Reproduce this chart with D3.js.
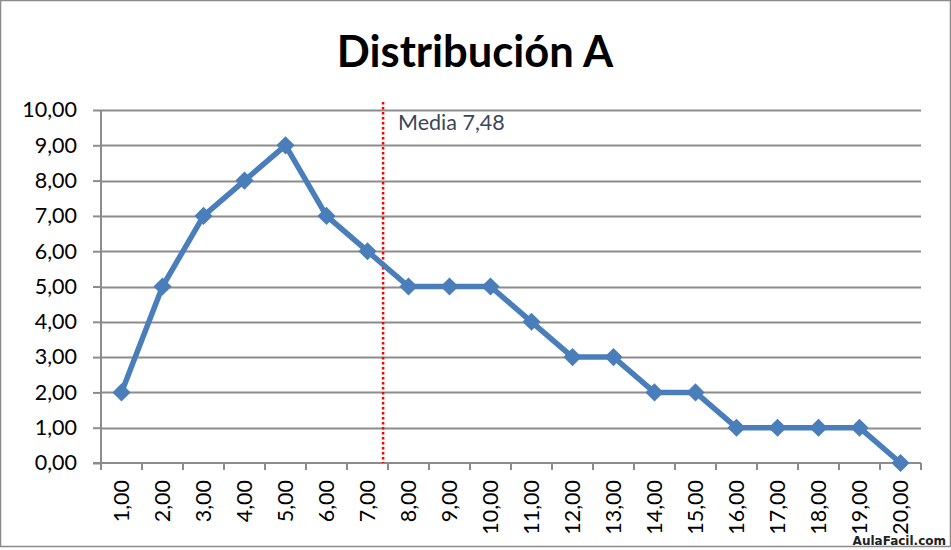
<!DOCTYPE html>
<html><head><meta charset="utf-8">
<script src="https://cdn.jsdelivr.net/npm/d3@7"></script>
<style>body{margin:0;background:#fff}svg{display:block}</style>
</head><body>
<script>
const categories = ["1,00","2,00","3,00","4,00","5,00","6,00","7,00","8,00","9,00","10,00","11,00","12,00","13,00","14,00","15,00","16,00","17,00","18,00","19,00","20,00"];
const values = [2,5,7,8,9,7,6,5,5,5,4,3,3,2,2,1,1,1,1,0];
const yTicks = [0,1,2,3,4,5,6,7,8,9,10];
const mediaValue = 7.48;
const mediaLabel = "Media 7,48";
const title = "Distribución A";

const W = 951, H = 550;
const m = {left:101, right:30, top:110, bottom:87};
const svg = d3.select("body").append("svg").attr("width",W).attr("height",H);
const font = "Lato, 'Open Sans', sans-serif";

svg.append("rect").attr("x",0.5).attr("y",0.5).attr("width",W-1).attr("height",H-4)
  .attr("fill","#fff").attr("stroke","#8a8a8a").attr("stroke-width",1.5);

const x = d3.scaleBand().domain(categories).range([m.left, W-m.right]);
const y = d3.scaleLinear().domain([0,10]).range([H-m.bottom, m.top]);
const xLin = d3.scaleLinear().domain([0.6, categories.length+0.6]).range([m.left, W-m.right]);

// gridlines
svg.append("g").selectAll("line").data(yTicks.filter(d=>d>0)).join("line")
  .attr("x1",m.left).attr("x2",W-m.right)
  .attr("y1",d=>Math.round(y(d))+0.5).attr("y2",d=>Math.round(y(d))+0.5)
  .attr("stroke","#8c8c8c").attr("stroke-width",2);

// y axis
const yAxis = svg.append("g").attr("transform",`translate(${m.left},0)`)
  .call(d3.axisLeft(y).tickValues(yTicks).tickSize(8).tickPadding(16)
    .tickFormat(d=>d3.format(".2f")(d).replace(".",",")));
yAxis.select(".domain").attr("stroke","#8c8c8c").attr("stroke-width",2).attr("d",`M0,${y(10)}V${y(0)}`);
yAxis.selectAll(".tick line").attr("stroke","#8c8c8c").attr("stroke-width",2);
yAxis.selectAll("text").attr("font-family",font).attr("font-size",21.5).attr("fill","#000");

// x axis
const xAxis = svg.append("g").attr("transform",`translate(0,${y(0)})`)
  .call(d3.axisBottom(x).tickSize(0).tickPadding(0));
xAxis.select(".domain").remove();
xAxis.append("line").attr("x1",m.left-8).attr("x2",W-m.right).attr("stroke","#8c8c8c").attr("stroke-width",2);
const bounds = d3.range(categories.length+1).map(i=>m.left + i*x.step());
xAxis.selectAll(".bt").data(bounds).join("line").attr("class","bt")
  .attr("x1",d=>d).attr("x2",d=>d).attr("y1",0).attr("y2",7)
  .attr("stroke","#8c8c8c").attr("stroke-width",2);
xAxis.selectAll(".tick text")
  .attr("font-family",font).attr("font-size",21.5).attr("fill","#000")
  .attr("text-anchor","end").attr("dy","0.35em")
  .attr("transform","translate(0,17) rotate(-90)");

// media line
svg.append("line").attr("x1",xLin(mediaValue)).attr("x2",xLin(mediaValue))
  .attr("y1",y(10)-8).attr("y2",y(0))
  .attr("stroke","#ff0000").attr("stroke-width",2.5).attr("stroke-dasharray","2.5,2.5");
svg.append("text").attr("x",xLin(mediaValue)+15).attr("y",y(10)+20)
  .attr("font-family",font).attr("font-size",21.5).attr("fill","#3b4658").text(mediaLabel);

// series line
const cx = (d,i)=>x(categories[i]) + x.bandwidth()/2;
svg.append("path").datum(values)
  .attr("d", d3.line().x(cx).y(d=>y(d)))
  .attr("fill","none").attr("stroke","#4a7ebb").attr("stroke-width",5.5).attr("stroke-linejoin","round");
svg.append("g").selectAll("path").data(values).join("path")
  .attr("d", d3.symbol().type(d3.symbolDiamond2).size(210))
  .attr("transform",(d,i)=>`translate(${cx(d,i)},${y(d)})`)
  .attr("fill","#4a7ebb");

// title
svg.append("text").attr("x",475).attr("y",67).attr("text-anchor","middle")
  .attr("font-family",font).attr("font-weight","bold").attr("font-size",43.5).attr("fill","#000").text(title);

// watermark
svg.append("text").attr("x",946).attr("y",545).attr("text-anchor","end")
  .attr("font-family","'DejaVu Sans', sans-serif").attr("font-weight","bold").attr("font-size",12).attr("fill","#222").text("AulaFacil.com");
</script>
</body></html>
